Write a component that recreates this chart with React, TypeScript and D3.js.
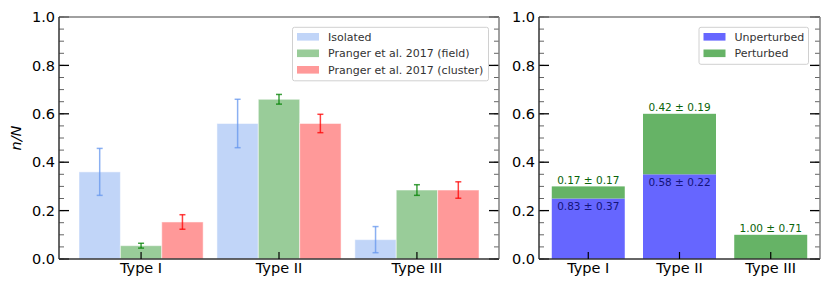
import React from "react";
import * as d3 from "d3";

// data
const categories = ["Type I", "Type II", "Type III"];
const seriesNames = ["Isolated", "Pranger et al. 2017 (field)", "Pranger et al. 2017 (cluster)"];
const isolated = [0.36, 0.56, 0.08];
const isolatedErr = [0.097, 0.1, 0.054];
const field = [0.055, 0.66, 0.285];
const fieldErr = [0.01, 0.02, 0.022];
const cluster = [0.153, 0.56, 0.285];
const clusterErr = [0.03, 0.038, 0.034];

const stackNames = ["Unperturbed", "Perturbed"];
const unperturbed = [0.25, 0.35, 0];
const perturbed = [0.05, 0.25, 0.1];
const unpLabels = ["0.83 ± 0.37", "0.58 ± 0.22", ""];
const pertLabels = ["0.17 ± 0.17", "0.42 ± 0.19", "1.00 ± 0.71"];

const yTicks = [0, 0.2, 0.4, 0.6, 0.8, 1.0];

const W = 830, H = 289;
const FONT = "DejaVu Sans, sans-serif";
const top = 17, bottom = 259;

const y = d3.scaleLinear().domain([0, 1]).range([bottom, top]);
const minorTicks = d3.range(0, 1.0001, 0.05);

function Frame({ x0, x1, showLabels }: { x0: number; x1: number; showLabels: boolean }) {
	return (
		<g>
			{minorTicks.map((t, i) => (
				<g key={"m" + i}>
					<line x1={x0} x2={x0 + 5} y1={y(t)} y2={y(t)} stroke="#666" strokeWidth={1} />
					<line x1={x1} x2={x1 - 5} y1={y(t)} y2={y(t)} stroke="#666" strokeWidth={1} />
				</g>
			))}
			{yTicks.map((t) => (
				<g key={t}>
					<line x1={x0} x2={x0 + 10} y1={y(t)} y2={y(t)} stroke="#000" strokeWidth={1.3} />
					<line x1={x1} x2={x1 - 10} y1={y(t)} y2={y(t)} stroke="#000" strokeWidth={1.3} />
					{showLabels && (
						<text x={x0 - 4} y={y(t)} dy="0.36em" textAnchor="end" fontSize={14.5} fontFamily={FONT} fill="#000">
							{t.toFixed(1)}
						</text>
					)}
				</g>
			))}
			<line x1={x0} x2={x1} y1={top} y2={top} stroke="#808080" strokeWidth={1.5} />
			<line x1={x1} x2={x1} y1={top} y2={bottom} stroke="#808080" strokeWidth={1.5} />
			<line x1={x0} x2={x0} y1={top} y2={bottom} stroke="#333" strokeWidth={1.5} />
			<line x1={x0} x2={x1} y1={bottom} y2={bottom} stroke="#333" strokeWidth={1.5} />
		</g>
	);
}

function XAxis({ x }: { x: d3.ScaleLinear<number, number> }) {
	return (
		<g>
			{categories.map((c, i) => (
				<g key={c}>
					<line x1={x(i)} x2={x(i)} y1={bottom} y2={bottom - 7} stroke="#000" strokeWidth={1.2} />
					<text x={x(i)} y={bottom + 14} textAnchor="middle" fontSize={14.5} fontFamily={FONT} fill="#000">
						{c}
					</text>
				</g>
			))}
		</g>
	);
}

function Legend({ x, y0, w, names, colors }: { x: number; y0: number; w: number; names: string[]; colors: string[] }) {
	const rowH = 16.5;
	const h = names.length * rowH + 4;
	return (
		<g>
			<rect x={x} y={y0} width={w} height={h} rx={2} fill="#fff" fillOpacity={0.85} stroke="#d0d0d0" strokeWidth={1} />
			{names.map((n, i) => {
				const cy = y0 + 9.5 + i * rowH;
				return (
					<g key={n}>
						<rect x={x + 4.5} y={cy - 3.8} width={22} height={7.6} fill={colors[i]} />
						<text x={x + 35.5} y={cy} dy="0.36em" fontSize={11} fontFamily={FONT} fill="#333">
							{n}
						</text>
					</g>
				);
			})}
		</g>
	);
}

function LeftPanel() {
	const x0 = 59, x1 = 499;
	const x = d3.scaleLinear().domain([-0.595, 2.595]).range([x0, x1]);
	const bw = x(0.3) - x(0);
	const series = [
		{ vals: isolated, errs: isolatedErr, fill: "#c1d5f8", err: "cornflowerblue", off: -0.3 },
		{ vals: field, errs: fieldErr, fill: "#99cc99", err: "green", off: 0 },
		{ vals: cluster, errs: clusterErr, fill: "#ff9999", err: "red", off: 0.3 },
	];
	return (
		<g>
			{series.map((s, si) =>
				s.vals.map((v, i) => (
					<rect key={si + "-" + i} x={x(i + s.off) - bw / 2} y={y(v)} width={bw} height={y(0) - y(v)}
						fill={s.fill} stroke="#fff" strokeOpacity={0.5} strokeWidth={1} />
				))
			)}
			{series.map((s, si) =>
				s.vals.map((v, i) => {
					const cx = x(i + s.off);
					return (
						<g key={"e" + si + "-" + i} stroke={s.err} strokeOpacity={0.75} strokeWidth={1.5}>
							<line x1={cx} x2={cx} y1={y(v + s.errs[i])} y2={y(v - s.errs[i])} />
							<line x1={cx - 3} x2={cx + 3} y1={y(v + s.errs[i])} y2={y(v + s.errs[i])} />
							<line x1={cx - 3} x2={cx + 3} y1={y(v - s.errs[i])} y2={y(v - s.errs[i])} />
						</g>
					);
				})
			)}
			<Frame x0={x0} x1={x1} showLabels={true} />
			<XAxis x={x} />
			<Legend x={292.5} y0={27.3} w={196} names={seriesNames} colors={["#c1d5f8", "#99cc99", "#ff9999"]} />
			<text transform={`translate(21,${(top + bottom) / 2}) rotate(-90)`} textAnchor="middle" fontSize={14.5}
				fontFamily={FONT} fontStyle="italic" fill="#000">
				n/N
			</text>
		</g>
	);
}

function RightPanel() {
	const x0 = 539, x1 = 820;
	const x = d3.scaleLinear().domain([-0.54, 2.54]).range([x0, x1]);
	const bw = x(0.8) - x(0);
	const blue = "#6666ff", green = "#66b366";
	return (
		<g>
			{categories.map((c, i) => {
				const tot = unperturbed[i] + perturbed[i];
				return (
					<g key={c}>
						<rect x={x(i) - bw / 2} y={y(unperturbed[i])} width={bw} height={y(0) - y(unperturbed[i])} fill={blue} />
						<rect x={x(i) - bw / 2} y={y(tot)} width={bw} height={y(unperturbed[i]) - y(tot)} fill={green} />
						<text x={x(i)} y={y(tot) - 2.6} textAnchor="middle" fontSize={10.5} fontFamily={FONT} fill="#0a640a">
							{pertLabels[i]}
						</text>
						{unpLabels[i] && (
							<text x={x(i)} y={y(unperturbed[i]) + 11.5} textAnchor="middle" fontSize={10.5} fontFamily={FONT} fill="#14147a">
								{unpLabels[i]}
							</text>
						)}
					</g>
				);
			})}
			<Frame x0={x0} x1={x1} showLabels={true} />
			<XAxis x={x} />
			<Legend x={699} y0={27.3} w={109.5} names={stackNames} colors={[blue, green]} />
		</g>
	);
}

export default function App() {
	return (
		<svg width={W} height={H} style={{ position: "absolute", left: 0, top: 0, background: "#fff" }}>
			<rect width={W} height={H} fill="#fff" />
			<LeftPanel />
			<RightPanel />
		</svg>
	);
}
